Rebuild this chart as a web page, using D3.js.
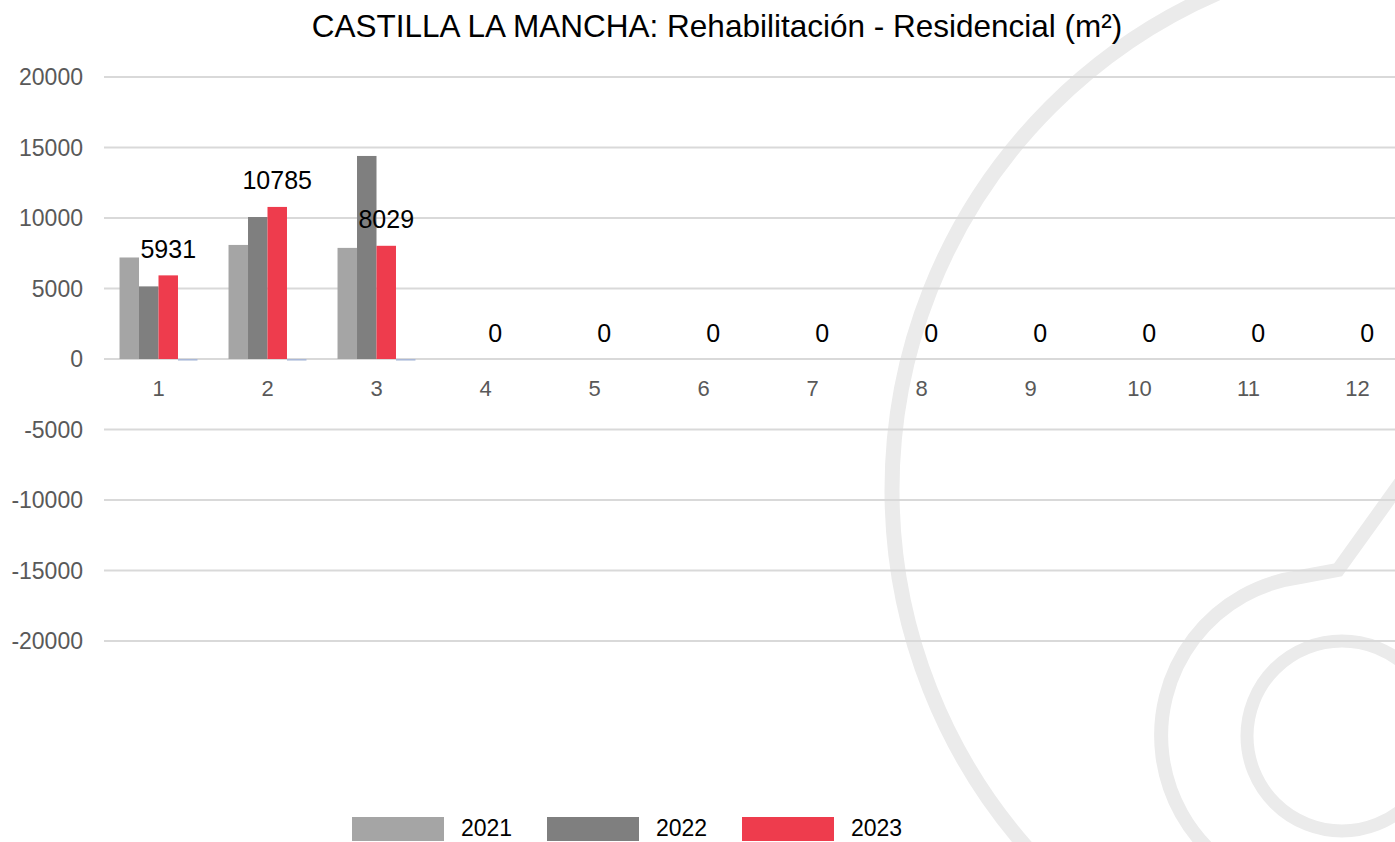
<!DOCTYPE html>
<html>
<head>
<meta charset="utf-8">
<script src="https://cdn.jsdelivr.net/npm/d3@7"></script>
<style>
	body { margin: 0; background: #fff; }
	text { font-family: "Liberation Sans", Arial, sans-serif; }
</style>
</head>
<body>
<div id="chart"></div>
<script>
// data
const months = ["1", "2", "3", "4", "5", "6", "7", "8", "9", "10", "11", "12"]
const seriesNames = ["2021", "2022", "2023"]
const values2021 = [7200, 8090, 7880, null, null, null, null, null, null, null, null, null]
const values2022 = [5150, 10070, 14400, null, null, null, null, null, null, null, null, null]
const values2023 = [5931, 10785, 8029, 0, 0, 0, 0, 0, 0, 0, 0, 0]
// fourth series, not in the legend (thin line just under zero)
const valuesExtra = [-110, -110, -110, null, null, null, null, null, null, null, null, null]
const yTicks = [-20000, -15000, -10000, -5000, 0, 5000, 10000, 15000, 20000]
const colors = ["#a5a5a5", "#7f7f7f", "#ee3c4d", "#a9b8d8"]

const width = 1395,
	height = 842;

const svg = d3.select("#chart")
	.append("svg")
	.attr("width", width)
	.attr("height", height)

// watermark logo in the background
const deco = svg.append("g")
	.attr("fill", "none")
	.attr("stroke", "#ebebeb")
deco.append("circle")
	.attr("cx", 1434).attr("cy", 490).attr("r", 542)
	.attr("stroke-width", 15)
deco.append("circle")
	.attr("cx", 1342).attr("cy", 736).attr("r", 95)
	.attr("stroke-width", 13)
deco.append("path")
	.attr("d", "M1460,400 L1338,570 L1300,577 A158,158 0 0 0 1342,894")
	.attr("stroke-width", 14)
	.attr("stroke-linejoin", "miter")

// scales
const x0 = d3.scaleBand()
	.domain(months)
	.range([104, 1412])
	.paddingInner(0.285)
	.paddingOuter(0.1425)

const x1 = d3.scaleBand()
	.domain(["2021", "2022", "2023", "extra"])
	.range([0, x0.bandwidth()])

const y = d3.scaleLinear()
	.domain([-20000, 20000])
	.range([641, 77])

// gridlines
svg.append("g")
	.selectAll("line")
	.data(yTicks)
	.join("line")
	.attr("x1", 104)
	.attr("x2", width)
	.attr("y1", d => y(d))
	.attr("y2", d => y(d))
	.attr("stroke", "#d9d9d9")
	.attr("stroke-width", 2)

// y tick labels
svg.append("g")
	.selectAll("text")
	.data(yTicks)
	.join("text")
	.attr("x", 83)
	.attr("y", d => y(d) + 8)
	.attr("text-anchor", "end")
	.attr("font-size", "23px")
	.attr("fill", "#595959")
	.text(d => d)

// x tick labels
svg.append("g")
	.selectAll("text")
	.data(months)
	.join("text")
	.attr("x", d => x0(d) + x0.bandwidth() / 2)
	.attr("y", 396)
	.attr("text-anchor", "middle")
	.attr("font-size", "22px")
	.attr("fill", "#595959")
	.text(d => d)

// bars
const allSeries = [
	{ key: "2021", values: values2021, color: colors[0] },
	{ key: "2022", values: values2022, color: colors[1] },
	{ key: "2023", values: values2023, color: colors[2] },
	{ key: "extra", values: valuesExtra, color: colors[3] }
]

allSeries.forEach(function (s) {
	const pts = months.map((m, i) => ({ month: m, value: s.values[i] }))
		.filter(d => d.value != null && d.value != 0)
	svg.append("g")
		.selectAll("rect")
		.data(pts)
		.join("rect")
		.attr("x", d => x0(d.month) + x1(s.key))
		.attr("y", d => y(Math.max(0, d.value)))
		.attr("width", x1.bandwidth())
		.attr("height", d => Math.abs(y(d.value) - y(0)))
		.attr("fill", s.color)
})

// data labels of 2023
svg.append("g")
	.selectAll("text")
	.data(months.map((m, i) => ({ month: m, value: values2023[i] })))
	.join("text")
	.attr("x", d => x0(d.month) + x1("2023") + x1.bandwidth() / 2)
	.attr("y", d => y(d.value) - 17.5)
	.attr("text-anchor", "middle")
	.attr("font-size", "25px")
	.attr("fill", "#000")
	.text(d => d.value)

// title
svg.append("text")
	.attr("x", 717)
	.attr("y", 37)
	.attr("text-anchor", "middle")
	.attr("font-size", "31.5px")
	.attr("fill", "#000")
	.text("CASTILLA LA MANCHA: Rehabilitación - Residencial (m²)")

// legend
const legend = svg.append("g")
	.selectAll("g")
	.data(seriesNames)
	.join("g")
	.attr("transform", (d, i) => `translate(${352 + i * 195}, 817)`)

legend.append("rect")
	.attr("width", 92)
	.attr("height", 24)
	.attr("fill", (d, i) => colors[i])

legend.append("text")
	.attr("x", 109)
	.attr("y", 19)
	.attr("font-size", "23px")
	.attr("fill", "#000")
	.text(d => d)
</script>
</body>
</html>
